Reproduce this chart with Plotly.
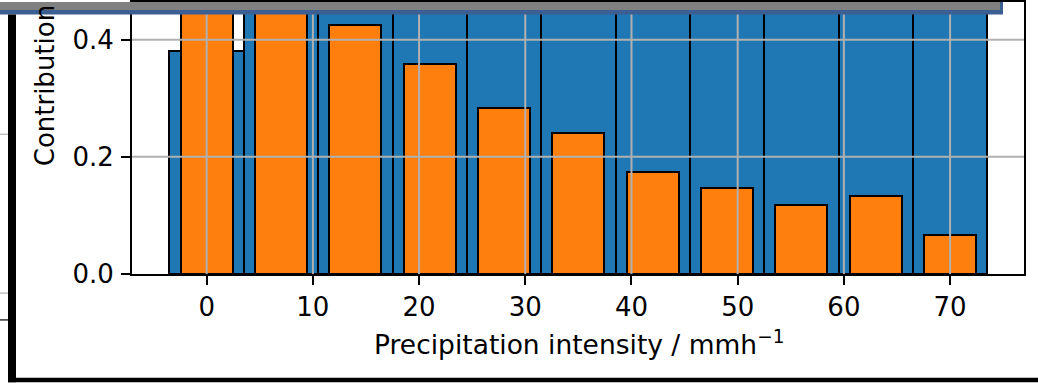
import plotly.graph_objects as go

# ---- data ----
bin_centers = [0, 7, 14, 21, 28, 35, 42, 49, 56, 63, 70]
blue_values = [0.38, 0.95, 0.92, 0.88, 0.85, 0.82, 0.80, 0.78, 0.76, 0.74, 0.72]
orange_values = [0.62, 0.56, 0.425, 0.359, 0.283, 0.240, 0.175, 0.146, 0.117, 0.134, 0.066]
blue_width = 7
orange_width = 4.9
x_ticks = [0, 10, 20, 30, 40, 50, 60, 70]
y_ticks = [0.0, 0.2, 0.4]
x_label = "Precipitation intensity / mmh<sup>\u22121</sup>"
y_label = "Contribution"

# ---- layout geometry ----
W, H = 1038, 383
L, R, T, B = 132, 14, 0, 109
PW = W - L - R
PH = H - T - B

def xp(px):
    return (px - L) / PW

def yp(py):
    return (H - B - py) / PH

FONT = "DejaVu Sans"
FS = 26

fig = go.Figure()
fig.add_trace(go.Bar(x=bin_centers, y=blue_values, width=blue_width,
                     marker=dict(color="#1f77b4", line=dict(color="black", width=2)),
                     showlegend=False))
fig.add_trace(go.Bar(x=bin_centers, y=orange_values, width=orange_width,
                     marker=dict(color="#ff7f0e", line=dict(color="black", width=2)),
                     showlegend=False))

shapes = []
# grid lines above bars
for t in x_ticks:
    shapes.append(dict(type="line", xref="x", yref="paper", x0=t, x1=t, y0=0, y1=1,
                       line=dict(color="#b0b0b0", width=2), layer="above"))
for t in y_ticks[1:]:
    shapes.append(dict(type="line", xref="paper", yref="y", x0=0, x1=1, y0=t, y1=t,
                       line=dict(color="#b0b0b0", width=2), layer="above"))

def rect(x0, y0, x1, y1, color):
    return dict(type="rect", xref="paper", yref="paper",
                x0=xp(x0), x1=xp(x1), y0=yp(y1), y1=yp(y0),
                fillcolor=color, line=dict(width=0), layer="above")

# screenshot overlay pieces
shapes.append(rect(0, 0, 1003, 12.5, "#3b5f92"))
shapes.append(rect(0, 0, 1000, 8, "#808080"))
shapes.append(rect(8, 12.5, 16, 383, "#000000"))
shapes.append(rect(8, 378.5, 1038, 383, "#000000"))
shapes.append(rect(0, 132.5, 8, 134, "#c0c0c0"))
shapes.append(rect(0, 292.5, 8, 294, "#c0c0c0"))
shapes.append(rect(0, 319.5, 8, 321, "#303030"))

fig.update_layout(
    width=W, height=H,
    margin=dict(l=L, r=R, t=T, b=B),
    paper_bgcolor="white", plot_bgcolor="white",
    barmode="overlay", bargap=0,
    font=dict(family=FONT, size=FS, color="black"),
    shapes=shapes,
    annotations=[
        dict(text=x_label, xref="paper", yref="paper", x=xp(579), y=yp(344),
             xanchor="center", yanchor="middle", showarrow=False,
             font=dict(family=FONT, size=26.5, color="black")),
        dict(text=y_label, xref="paper", yref="paper", x=xp(45), y=yp(168),
             xanchor="center", yanchor="bottom", textangle=-90, showarrow=False,
             font=dict(family=FONT, size=FS, color="black")),
    ],
)
fig.update_xaxes(range=[-7.03, 76.96], tickvals=x_ticks, ticktext=[str(t) for t in x_ticks],
                 showgrid=False, zeroline=False, showline=True, linecolor="black", linewidth=2,
                 mirror=True, ticks="outside", ticklen=9, tickwidth=2, tickcolor="black",
                 ticklabelstandoff=0, layer="above traces")
fig.update_yaxes(range=[0, PH / 590.0], tickvals=y_ticks, ticktext=["%.1f" % t for t in y_ticks],
                 showgrid=False, zeroline=False, showline=True, linecolor="black", linewidth=2,
                 mirror=True, ticks="outside", ticklen=9, tickwidth=2, tickcolor="black",
                 ticklabelstandoff=2, layer="above traces")

fig.write_html("out.html")
